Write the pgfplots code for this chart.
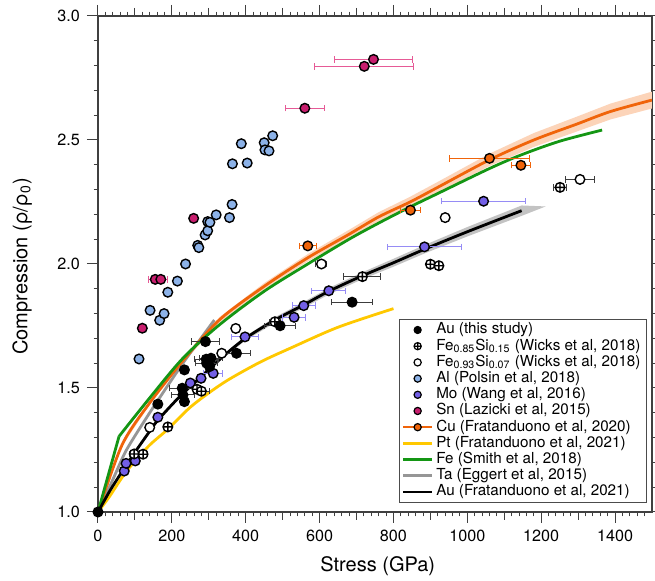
\documentclass[border=0pt]{standalone}
\usepackage{pgfplots}
\usepackage{pgfplotstable}
\pgfplotsset{compat=1.18}
\usepackage{fontspec}
\setmainfont{TeX Gyre Heros}
\definecolor{alcol}{RGB}{140,178,232}
\definecolor{mocol}{RGB}{115,95,230}
\definecolor{mobar}{RGB}{150,140,245}
\definecolor{sncol}{RGB}{200,30,110}
\definecolor{snbar}{RGB}{230,90,150}
\definecolor{cucol}{RGB}{240,100,10}
\definecolor{cuband}{RGB}{252,212,185}
\definecolor{ptcol}{RGB}{255,200,0}
\definecolor{fecol}{RGB}{20,150,20}
\definecolor{tacol}{RGB}{150,150,150}
\definecolor{auband}{RGB}{195,195,195}
\definecolor{barcol}{RGB}{60,60,60}

% ---------- data points ----------
\pgfplotstableread{
x y
0 1.000
162 1.435
228 1.499
230 1.472
234 1.445
234 1.573
291 1.687
293 1.616
306 1.620
294 1.600
302 1.586
375 1.640
493 1.751
688 1.846
}\auData
\pgfplotstableread{
x y ex
228 1.499 35
230 1.472 30
291 1.687 38
293 1.616 32
306 1.620 30
294 1.600 30
375 1.640 38
493 1.751 42
688 1.846 55
}\auBars
\pgfplotstableread{
x y
98 1.234
122 1.233
189 1.343
268 1.495
280 1.487
479 1.767
716 1.949
900 1.999
923 1.993
1251 2.309
}\feaData
\pgfplotstableread{
x y ex
98 1.234 12
122 1.233 12
280 1.487 22
479 1.767 15
716 1.949 50
1251 2.309 18
}\feaBars
\pgfplotstableread{
x y
140 1.341
335 1.640
373 1.740
605 2.000
940 2.187
1305 2.341
}\febData
\pgfplotstableread{
x y ex
140 1.341 10
335 1.640 10
605 2.000 15
1305 2.341 40
}\febBars
\pgfplotstableread{
x y
111 1.617
141 1.813
167 1.773
179 1.800
189 1.886
215 1.931
237 2.000
270 2.075
273 2.066
290 2.117
297 2.134
297 2.171
303 2.168
320 2.198
356 2.187
363 2.240
364 2.404
404 2.407
388 2.485
450 2.489
452 2.460
463 2.456
473 2.517
}\alData
\pgfplotstableread{
x y
71 1.165
76 1.196
101 1.206
162 1.382
250 1.520
279 1.539
312 1.559
398 1.706
531 1.785
557 1.832
625 1.892
884 2.069
1044 2.253
}\moData
\pgfplotstableread{
x y ex
312 1.559 25
398 1.706 36
531 1.785 32
557 1.832 31
625 1.892 46
884 2.069 100
1044 2.253 113
}\moBars
\pgfplotstableread{
x y ex
120 1.741 0
155 1.938 17
170 1.938 17
259 2.184 0
560 2.628 53
721 2.797 134
746 2.825 105
}\snData
\pgfplotstableread{
x y ex
568 2.073 23
846 2.217 28
1060 2.426 107
1145 2.398 25
}\cuData

% ---------- curves ----------
\pgfplotstableread{
x y
0 1.000
65 1.270
140 1.440
230 1.610
329 1.775
450 1.910
568 2.025
680 2.120
760 2.190
845 2.250
921 2.310
1060 2.420
1180 2.500
1298 2.565
1388 2.615
1500 2.661
}\cuCurve
\pgfplotstableread{
x y
0 1.004
65 1.275
140 1.447
230 1.619
329 1.786
450 1.923
568 2.040
680 2.138
760 2.209
845 2.271
921 2.332
1060 2.445
1180 2.528
1298 2.595
1388 2.647
1500 2.695
1500 2.627
1388 2.583
1298 2.535
1180 2.472
1060 2.395
921 2.288
845 2.229
760 2.171
680 2.102
568 2.010
450 1.897
329 1.764
230 1.601
140 1.433
65 1.265
0 0.996
}\cuBand
\pgfplotstableread{
x y
0 1.000
32 1.085
64 1.160
95 1.230
135 1.315
162 1.370
221 1.465
275 1.540
337 1.625
399 1.700
480 1.775
557 1.835
625 1.890
715 1.952
800 2.005
885 2.060
1000 2.130
1147 2.215
}\auCurve
\pgfplotstableread{
x y
0 1.003
32 1.089
64 1.164
95 1.235
135 1.320
162 1.376
221 1.472
275 1.547
337 1.633
399 1.709
480 1.786
557 1.847
625 1.903
715 1.966
800 2.021
885 2.077
1000 2.149
1147 2.236
1212 2.232
1147 2.194
1000 2.111
885 2.043
800 1.989
715 1.938
625 1.877
557 1.823
480 1.764
399 1.691
337 1.617
275 1.533
221 1.459
162 1.364
135 1.310
95 1.226
64 1.156
32 1.082
0 0.997
}\auBand
\pgfplotstableread{
x y
0 1.000
57 1.305
}\feCurveA
\pgfplotstableread{
x y
57 1.305
140 1.460
230 1.620
329 1.755
450 1.890
568 2.000
680 2.100
760 2.165
845 2.230
921 2.285
1060 2.385
1146 2.440
1250 2.495
1365 2.540
}\feCurve
\pgfplotstableread{
x y
0 1.000
30 1.060
70 1.150
95 1.196
140 1.270
190 1.335
248 1.420
300 1.480
355 1.535
440 1.605
520 1.660
650 1.745
800 1.820
}\ptCurve
\pgfplotstableread{
x y
0 1.000
40 1.130
77 1.250
140 1.400
230 1.600
315 1.774
}\taCurve

\begin{document}
\begin{tikzpicture}
\begin{axis}[
  scale only axis, width=277pt, height=248pt,
  xmin=0, xmax=1500, ymin=1, ymax=3,
  axis line style={line width=0.6pt, black!75},
  every tick/.style={black!75, line width=0.5pt},
  tick align=outside,
  major tick length=5.5pt, minor tick length=2.2pt,
  xtick={0,200,...,1400},
  minor xtick={20,40,...,1480},
  extra x ticks={100,300,500,700,900,1100,1300},
  extra x tick labels={},
  extra x tick style={major tick length=4pt},
  ytick={1,1.5,2,2.5,3},
  minor ytick={1.1,1.2,1.3,1.4,1.6,1.7,1.8,1.9,2.1,2.2,2.3,2.4,2.6,2.7,2.8,2.9},
  xticklabel style={/pgf/number format/1000 sep={}},
  yticklabel style={/pgf/number format/.cd, fixed, fixed zerofill, precision=1},
  /pgf/number format/assume math mode=true,
  tick label style={font=\fontsize{8.1}{9.5}\selectfont},
  xlabel={Stress (GPa)},
  ylabel={Compression (ρ/ρ\textsubscript{0})},
  label style={font=\fontsize{12.8}{14}\selectfont},
  every axis x label/.style={at={(axis description cs:0.505,-0.11)}, anchor=center},
  every axis y label/.style={at={(axis description cs:-0.137,0.495)}, anchor=center, rotate=90},
  legend style={at={(1,0)}, anchor=south east, xshift=-2.5pt, yshift=4.5pt,
    draw=black!70, line width=0.5pt, font=\fontsize{7.6}{8}\selectfont,
    row sep=0pt, inner xsep=1.5pt, inner ysep=1.2pt, cells={anchor=west},
    nodes={inner xsep=1.5pt, inner ysep=0.3pt, text height=5.7pt, text depth=1.8pt},
    /tikz/every even column/.append style={column sep=0pt}},
  legend image code/.code={
    \draw[mark repeat=2,mark phase=2] plot coordinates {(0cm,0cm) (0.25cm,0cm) (0.5cm,0cm)};},
  legend cell align=left,
]
% legend
\addlegendimage{only marks, mark=*, mark size=1.8pt, mark options={fill=black, draw=black}}
\addlegendentry{Au (this study)}
\addlegendimage{only marks, mark=oplus*, mark size=1.8pt, mark options={fill=white, draw=black, line width=0.6pt}}
\addlegendentry{Fe\textsubscript{0.85}Si\textsubscript{0.15} (Wicks et al, 2018)}
\addlegendimage{only marks, mark=*, mark size=1.8pt, mark options={fill=white, draw=black, line width=0.6pt}}
\addlegendentry{Fe\textsubscript{0.93}Si\textsubscript{0.07} (Wicks et al, 2018)}
\addlegendimage{only marks, mark=*, mark size=1.8pt, mark options={fill=alcol, draw=black, line width=0.6pt}}
\addlegendentry{Al (Polsin et al, 2018)}
\addlegendimage{only marks, mark=*, mark size=1.8pt, mark options={fill=mocol, draw=black, line width=0.6pt}}
\addlegendentry{Mo (Wang et al, 2016)}
\addlegendimage{only marks, mark=*, mark size=1.8pt, mark options={fill=sncol, draw=black, line width=0.6pt}}
\addlegendentry{Sn (Lazicki et al, 2015)}
\addlegendimage{cucol, line width=1.2pt, mark=*, mark size=1.8pt, mark options={fill=cucol, draw=black, line width=0.6pt}}
\addlegendentry{Cu (Fratanduono et al, 2020)}
\addlegendimage{ptcol, line width=1.4pt}
\addlegendentry{Pt (Fratanduono et al, 2021)}
\addlegendimage{fecol, line width=1.4pt}
\addlegendentry{Fe (Smith et al, 2018)}
\addlegendimage{tacol, line width=1.4pt}
\addlegendentry{Ta (Eggert et al, 2015)}
\addlegendimage{black, line width=1.4pt}
\addlegendentry{Au (Fratanduono et al, 2021)}

% bands
\addplot[forget plot, fill=cuband, draw=none] table {\cuBand};
\addplot[forget plot, fill=auband, draw=none] table {\auBand};
% curves
\addplot[forget plot, ptcol, line width=1.4pt, smooth, tension=0.5] table {\ptCurve};
\addplot[forget plot, tacol, line width=1.4pt, smooth, tension=0.4] table {\taCurve};
\addplot[forget plot, cucol, line width=1.4pt, smooth, tension=0.5] table {\cuCurve};
\addplot[forget plot, fecol, line width=1.4pt] table {\feCurveA};
\addplot[forget plot, fecol, line width=1.4pt, smooth, tension=0.5] table {\feCurve};
\addplot[forget plot, black, line width=1.4pt, smooth, tension=0.5] table {\auCurve};

% error bars
\pgfplotsset{barstyle/.style={forget plot, mark=none, draw=none,
  error bars/.cd, x dir=both, x explicit,
  error bar style={draw=#1, line width=0.5pt},
  error mark options={rotate=90, mark size=1.6pt, line width=0.5pt, draw=#1}}}
\addplot[barstyle=barcol] table[x=x, y=y, x error=ex] {\auBars};
\addplot[barstyle=barcol] table[x=x, y=y, x error=ex] {\feaBars};
\addplot[barstyle=barcol] table[x=x, y=y, x error=ex] {\febBars};
\addplot[barstyle=mobar] table[x=x, y=y, x error=ex] {\moBars};
\addplot[barstyle=snbar] table[x=x, y=y, x error=ex] {\snData};
\addplot[barstyle=cucol] table[x=x, y=y, x error=ex] {\cuData};

% markers
\pgfplotsset{ptstyle/.style={forget plot, only marks, mark=*, mark size=2.4pt,
  mark options={fill=#1, draw=black, line width=0.7pt}}}
\addplot[ptstyle=alcol] table[x=x, y=y] {\alData};
\addplot[ptstyle=sncol] table[x=x, y=y] {\snData};
\addplot[ptstyle=cucol] table[x=x, y=y] {\cuData};
\addplot[ptstyle=mocol] table[x=x, y=y] {\moData};
\addplot[ptstyle=white] table[x=x, y=y] {\febData};
\addplot[forget plot, only marks, mark=oplus*, mark size=2.4pt,
  mark options={fill=white, draw=black, line width=0.7pt}] table[x=x, y=y] {\feaData};
\addplot[ptstyle=black] table[x=x, y=y] {\auData};
\end{axis}
\pgfresetboundingbox
\path ([shift={(-49pt,-34.5pt)}]current axis.south west) rectangle ([shift={(1.5pt,8pt)}]current axis.north east);
\end{tikzpicture}
\end{document}
